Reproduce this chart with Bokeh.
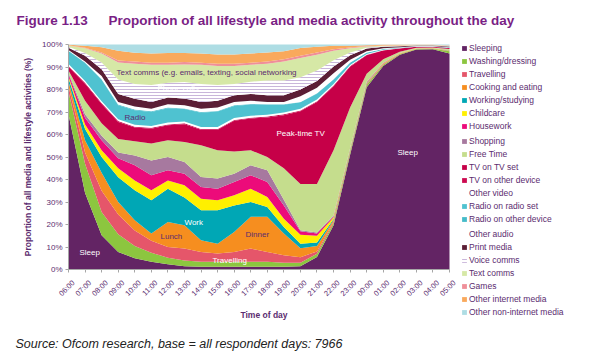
from bokeh.plotting import figure
from bokeh.models import (Range1d, FixedTicker, Label, Legend, LegendItem, ColumnDataSource,
                          LinearAxis)
from bokeh.embed import file_html
from bokeh.resources import INLINE

# ---------------- data (percent of all activity, per hour) ----------------
hours = ["06:00", "07:00", "08:00", "09:00", "10:00", "11:00", "12:00", "13:00",
         "14:00", "15:00", "16:00", "17:00", "18:00", "19:00", "20:00", "21:00",
         "22:00", "23:00", "00:00", "01:00", "02:00", "03:00", "04:00", "05:00"]

sleeping = [69, 34, 15.2, 7.8, 5, 3.4, 2.3, 1.5, 1.2, 1.2, 1.2, 1.2, 1.2, 1.2, 1.5, 5.6, 19.7, 51, 81, 90.5, 95.5, 97.8, 97.9, 96]
washing = [10, 13, 10.4, 7.9, 5.5, 4.1, 2.9, 2.5, 2.2, 2.2, 2.2, 2.2, 2.2, 1.8, 1.5, 1.4, 1, 1, 1, .5, .3, .2, .2, 1]
travelling = [2.5, 5, 9.4, 8.7, 6.8, 5.3, 4.8, 5.3, 4.4, 3.7, 4.4, 5.9, 4.4, 3.3, 2.5, 1, .6, .4, .3, .2, .1, .05, .05, .1]
cooking = [2, 5.5, 8, 5.6, 4.6, 3.2, 11.1, 10.4, 5.2, 4.4, 8.9, 14.1, 15.6, 9.7, 4, 2.5, .7, .4, .3, .2, .1, .05, .05, .1]
working = [1.5, 5, 7, 11, 13.3, 14.8, 14.8, 12.3, 13.3, 14.8, 11.8, 6.6, 4.4, 2.9, 2, 1.5, .5, .3, .2, .1, .05, .05, .05, .1]
childcare = [.8, 2, 3, 4, 4.4, 4.4, 3.7, 5.4, 5.2, 4.5, 4.5, 5.9, 4.4, 3.7, 4, 3, .7, .3, .2, .1, .05, .05, .05, .1]
housework = [1, 3, 4.5, 4.5, 6.7, 6.7, 4.5, 5.2, 5.2, 5.1, 5.9, 6, 6.7, 5.9, 1.5, 1, .4, .2, .2, .1, .05, .05, .05, .1]
shopping = [.5, 1.5, 2, 2.5, 4.4, 6.6, 5.9, 5.2, 4.4, 4.5, 3.7, 4.4, 5.2, 2.5, .5, .5, .4, .3, .3, .2, .05, .05, .05, .1]
free_time = [1.2, 6, 5.5, 6, 6.3, 7.5, 7.4, 8.9, 14.1, 12.6, 9.9, 6.7, 5.9, 14, 20.5, 21.5, 29, 18.1, 3.5, 1.6, .6, .3, .3, .4]
tv_set = [1.6, 7.6, 8.6, 7.6, 6.1, 6.6, 6.7, 7.9, 6.9, 9.1, 13.6, 14.1, 17.6, 23.6, 32.3, 36.4, 28.4, 18.1, 8.2, 3.8, 1.4, .4, .3, .4]
tv_other = [.4, .4, .4, .4, .4, .4, .4, .4, .4, .4, .4, .4, .4, .4, .4, .4, .4, .4, .3, .2, .1, .05, .05, .05]
other_video = [.8, .8, .8, .8, .8, .8, .8, .8, .8, .8, .8, .8, .8, .8, .8, .8, .6, .4, .3, .2, .1, .05, .05, .05]
radio_set = [5.8, 8, 9.5, 6.2, 6.5, 6.2, 6.4, 5.5, 6.4, 6.9, 5.4, 5, 4.4, 3.4, 2.8, 2.5, 2, 1, .5, .3, .2, .1, .1, .2]
radio_other = [.1, .2, .3, .3, .3, .3, .3, .3, .3, .3, .3, .3, .3, .2, .2, .2, .2, .1, .1, .05, .05, .02, .02, .02]
other_audio = [.4, .5, 1.4, 1.2, 1.3, 1.2, 1.5, 1.4, 1.5, 1.5, 1.5, 1.4, 1, 1.1, 2.5, 2.5, 2.6, 1.2, .6, .25, .15, .08, .08, .08]
print_media = [1, 2.5, 3, 3.5, 3.5, 3, 3, 3, 3, 3, 3, 3, 3, 3, 3, 3, 3, 2, 1.2, .7, .4, .3, .3, .3]
voice_comms = [.4, 1.2, 3, 6.5, 6.6, 7.5, 6.5, 7.3, 8, 7, 5, 5.5, 6.5, 6.5, 5.5, 4.7, 2.8, 1.3, .4, .2, .15, .1, .1, .1]
text_comms = [.6, 2.1, 4, 7.5, 9, 9, 8, 7.8, 8.5, 8.5, 8, 7.5, 7.5, 8.5, 8.5, 7, 4.2, 1.8, .5, .3, .25, .1, .1, .15]
games = [.1, .3, .5, .9, .9, .9, .9, 1.1, .9, .9, .9, .9, .9, .9, 1, .9, .7, .4, .2, .1, .05, .02, .02, .05]
other_internet = [.15, .9, 2.3, 4.3, 3.9, 4.1, 4.3, 4, 4.1, 4.2, 4.2, 4.1, 4.1, 3.6, 3.5, 2.6, 1.5, .8, .4, .25, .2, .08, .08, .2]
other_non_internet = [.15, .5, 1.2, 2.8, 3.7, 4, 3.8, 3.8, 4, 4.4, 4.4, 4, 3.5, 3, 1.5, 1, .6, .5, .3, .15, .15, .1, .1, .4]

y_ticks = [0, 10, 20, 30, 40, 50, 60, 70, 80, 90, 100]
y_tick_labels = ["0%", "10%", "20%", "30%", "40%", "50%", "60%", "70%", "80%", "90%", "100%"]

layers = [
    ("sleeping", "Sleeping", sleeping, "#632464"),
    ("washing", "Washing/dressing", washing, "#8CC63F"),
    ("travelling", "Travelling", travelling, "#E5566A"),
    ("cooking", "Cooking and eating", cooking, "#F68E1F"),
    ("working", "Working/studying", working, "#00A7B5"),
    ("childcare", "Childcare", childcare, "#FFF000"),
    ("housework", "Housework", housework, "#EC0B7A"),
    ("shopping", "Shopping", shopping, "#A7799F"),
    ("free_time", "Free Time", free_time, "#C5DD8D"),
    ("tv_set", "TV on TV set", tv_set, "#C60048"),
    ("tv_other", "TV on other device", tv_other, "#CC0A50"),
    ("other_video", "Other video", other_video, "#FFFFFF"),
    ("radio_set", "Radio on radio set", radio_set, "#4FC2D0"),
    ("radio_other", "Radio on other device", radio_other, "#45BBC9"),
    ("other_audio", "Other audio", other_audio, "#FFFFFF"),
    ("print_media", "Print media", print_media, "#5B1E35"),
    ("voice_comms", "Voice comms", voice_comms, "#FFFFFF"),
    ("text_comms", "Text comms", text_comms, "#D6E8A6"),
    ("games", "Games", games, "#EF8F99"),
    ("other_internet", "Other internet media", other_internet, "#F9A95C"),
    ("other_non_internet", "Other non-internet media", other_non_internet, "#AEDDE4"),
]

FONT = "Liberation Sans"
TXT = "#5B2C6F"
TITLE_C = "#7A1F85"

W, H = 600, 353
FL, FR, FT, FB = 68, 449, 44, 269           # plot-area edges in page pixels
n = len(hours)
SX = (FR - FL) / (n - 1)                    # px per hour
SY = (FB - FT) / 100.0                      # px per percent

data = {"x": list(range(n))}
for key, _, vals, _ in layers:
    data[key] = vals
source = ColumnDataSource(data)

# the frame is the whole canvas; the axes are pinned inside it at 0
p = figure(width=W, height=H, output_backend="svg", toolbar_location=None, title=None,
           x_range=Range1d(-FL / SX, (n - 1) + (W - FR) / SX),
           y_range=Range1d(-(H - FB) / SY, 100 + FT / SY),
           min_border=0)
p.outline_line_color = None
p.xgrid.grid_line_color = None
p.ygrid.grid_line_color = None

keys = [l[0] for l in layers]
colors = [l[3] for l in layers]
renderers = p.varea_stack(stackers=keys, x="x", color=colors, source=source)
vr = renderers[keys.index("voice_comms")]
vr.glyph.hatch_pattern = "horizontal_line"
vr.glyph.hatch_color = "#C9B6DA"
vr.glyph.hatch_scale = 3
vr.glyph.hatch_weight = 1

ya = p.yaxis[0]
ya.fixed_location = 0
ya.bounds = (0, 100)
ya.ticker = FixedTicker(ticks=y_ticks)
ya.major_label_overrides = {t: s for t, s in zip(y_ticks, y_tick_labels)}
ya.axis_label = "Proportion of all media and lifestyle activities (%)"
ya.axis_label_standoff = 6
ya.major_label_standoff = 3
ya.major_label_text_font_size = "8px"

xa = p.xaxis[0]
xa.fixed_location = 0
xa.bounds = (0, n - 1)
xa.ticker = FixedTicker(ticks=list(range(n)))
xa.major_label_overrides = {i: "" for i in range(n)}
xa.major_label_standoff = 0

for ax in (xa, ya):
    ax.axis_line_color = "#A6A6A6"
    ax.major_tick_line_color = "#A6A6A6"
    ax.minor_tick_line_color = None
    ax.major_tick_in = 0
    ax.major_tick_out = 3
    ax.major_label_text_font = FONT
    ax.major_label_text_color = TXT
    ax.axis_label_text_font = FONT
    ax.axis_label_text_color = TXT
    ax.axis_label_text_font_style = "bold"
    ax.axis_label_text_font_size = "8.5px"

shift = 0.3
p.extra_x_ranges = {"labels": Range1d(p.x_range.start - shift, p.x_range.end - shift)}
xl = LinearAxis(x_range_name="labels", ticker=FixedTicker(ticks=list(range(n))),
                fixed_location=0, bounds=(0, n - 1),
                major_label_overrides={i: h for i, h in enumerate(hours)},
                major_label_orientation=0.785398, major_label_standoff=12,
                axis_line_color=None, major_tick_line_color=None, minor_tick_line_color=None,
                major_tick_out=0, major_tick_in=0,
                major_label_text_font=FONT, major_label_text_font_size="7.5px",
                major_label_text_color=TXT,
                axis_label="Time of day", axis_label_standoff=6, axis_label_text_font=FONT,
                axis_label_text_font_size="8.5px", axis_label_text_font_style="bold",
                axis_label_text_color=TXT)
p.add_layout(xl, "below")


def put(txt, x, y, color=TXT, size="8px", style="normal"):
    # x, y: page pixels from top-left
    p.add_layout(Label(x=x, y=H - y, x_units="screen", y_units="screen", text=txt,
                       text_font=FONT, text_font_size=size, text_color=color,
                       text_font_style=style, text_align="left", text_baseline="middle"))


# title and source
put("Figure 1.13", 16, 20, color=TITLE_C, size="13.5px", style="bold")
put("Proportion of all lifestyle and media activity throughout the day", 108, 20,
    color=TITLE_C, size="13.5px", style="bold")
put("Source: Ofcom research, base = all respondent days: 7966", 15, 343,
    color="#222222", size="12.5px", style="italic")

# annotations inside the chart
for txt, x, y, c in [
        ("Text comms (e.g. emails, texting, social networking", 116, 72, TXT),
        ("Phone calls", 157, 88, "white"),
        ("Radio", 124, 117, TXT),
        ("Peak-time TV", 276, 133, "white"),
        ("Work", 184, 222, "white"),
        ("Lunch", 160, 236, TXT),
        ("Dinner", 245, 234, TXT),
        ("Travelling", 212, 260, "white"),
        ("Sleep", 79, 252, "white"),
        ("Sleep", 397, 152, "white")]:
    put(txt, x, y, color=c)

# legend (three stacked blocks so the row pitch matches the reference)
row_h = 13
pitch = 13.33
first_center = 47.7
pairs = [(lab, r) for (_, lab, _, _), r in zip(layers, renderers)]
for start in (0, 7, 14):
    chunk = pairs[start:start + 7]
    top = first_center + pitch * start - row_h / 2.0
    leg = Legend(items=[LegendItem(label=lab, renderers=[r]) for lab, r in chunk],
                 location=(461, H - top - row_h * len(chunk)),
                 glyph_width=6, glyph_height=6, label_height=row_h, spacing=0,
                 padding=0, margin=0, label_standoff=2,
                 label_text_font=FONT, label_text_font_size="8.5px", label_text_color=TXT,
                 border_line_color=None, background_fill_alpha=0)
    p.add_layout(leg)

open("out.html", "w").write(file_html(p, INLINE))
